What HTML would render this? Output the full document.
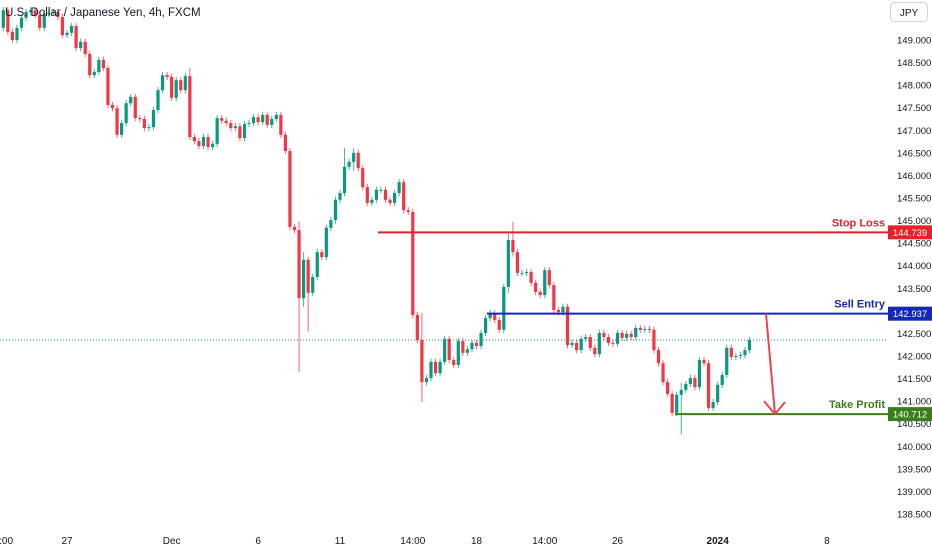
<!DOCTYPE html>
<html><head><meta charset="utf-8"><style>
html,body{margin:0;padding:0;background:#fff;}
body{width:932px;height:550px;overflow:hidden;font-family:"Liberation Sans",sans-serif;}
</style></head><body>
<svg id="chart" width="932" height="550" xmlns="http://www.w3.org/2000/svg" style="display:block">
<g id="candles"></g>
<g id="axis"></g>
<g id="timeaxis"></g>
<g id="levels"></g>
<text x="5" y="16" font-size="11.5" fill="#131722">U.S. Dollar / Japanese Yen, 4h, FXCM</text>
<g>
<rect x="890.5" y="2.5" width="37" height="19" rx="4" fill="#fff" stroke="#d1d4dc"/>
<text x="909" y="16" font-size="10" fill="#131722" text-anchor="middle">JPY</text>
</g>
</svg>
<script>
const firstOpen = 149.27;
const closes = [149.66,149.18,149.00,149.27,149.49,149.62,149.66,149.55,149.27,149.58,149.60,149.62,149.51,149.11,149.16,149.31,148.82,148.96,148.69,148.22,148.29,148.56,148.38,147.56,147.49,146.90,147.16,147.60,147.74,147.27,147.25,147.05,147.07,147.45,147.89,148.22,148.18,147.72,148.11,147.89,148.20,146.85,146.76,146.65,146.85,146.63,146.70,147.27,147.21,147.16,147.05,147.09,146.83,147.14,147.16,147.29,147.18,147.34,147.12,147.25,147.34,146.90,146.54,144.86,144.79,143.28,144.13,143.40,143.75,144.30,144.19,144.84,145.01,145.46,145.61,146.19,146.30,146.50,146.16,145.74,145.39,145.46,145.68,145.68,145.46,145.39,145.61,145.85,145.23,145.19,142.91,142.35,141.42,141.51,141.87,141.62,141.87,142.38,141.91,141.80,142.33,142.07,142.15,142.29,142.22,142.51,142.84,142.95,142.80,142.58,143.53,144.57,144.30,143.84,143.84,143.86,143.62,143.42,143.35,143.90,143.57,143.02,142.97,143.09,142.24,142.29,142.13,142.38,142.42,142.18,142.04,142.51,142.42,142.29,142.27,142.51,142.40,142.49,142.42,142.62,142.58,142.60,142.58,142.13,141.84,141.42,141.16,140.74,141.14,141.25,141.38,141.51,141.31,141.91,141.84,140.85,140.98,141.36,141.58,142.18,141.98,142.00,142.02,142.13,142.35];
const wickIdx = [41,65,66,67,75,77,92,111,112,149];
const wickHigh = [148.38,144.98,144.30,143.60,146.61,146.60,142.95,144.75,144.97,141.40];
const wickLow  = [146.80,141.64,143.09,142.54,146.10,146.10,140.98,143.40,144.20,140.26];
const priceTicks = ["149.000","148.500","148.000","147.500","147.000","146.500","146.000","145.500","145.000","144.500","144.000","143.500","143.000","142.500","142.000","141.500","141.000","140.500","140.000","139.500","139.000","138.500"];
const timeLabels = ["0:00","27","Dec","6","11","14:00","18","14:00","26","2024","8"];
const timeLabelIdx = [0,14,37,56,74,90,104,119,135,157,181];
const lastPrice = 142.35;
const stopLoss = 144.739, sellEntry = 142.937, takeProfit = 140.712;

const NS="http://www.w3.org/2000/svg";
function yS(p){return 40+(149-p)*45.14;}
function xS(i){return 3.3+i*4.55;}
function mk(tag,attrs,parent){const e=document.createElementNS(NS,tag);for(const k in attrs)e.setAttribute(k,attrs[k]);parent.appendChild(e);return e;}
const G="#089981",R="#f23645";
const cg=document.getElementById('candles');
// last price dotted line
const lp=mk('line',{x1:0,x2:888,y1:yS(lastPrice),y2:yS(lastPrice),stroke:"#089981","stroke-dasharray":"1,2","stroke-width":1},cg);


for(let i=0;i<closes.length;i++){
  const o=i===0?firstOpen:closes[i-1], c=closes[i];
  const k=wickIdx.indexOf(i);
  let hi=Math.max(o,c)+0.07, lo=Math.min(o,c)-0.07;
  if(k>=0){hi=Math.max(hi,wickHigh[k]);lo=Math.min(lo,wickLow[k]);}
  const col=c>=o?G:R, x=xS(i);
  const g=mk('g',{},cg);
  
  
  mk('line',{x1:x,x2:x,y1:yS(hi),y2:yS(lo),stroke:col,"stroke-width":1,opacity:0.75},g);
  const t=yS(Math.max(o,c)),b=yS(Math.min(o,c));
  mk('rect',{x:x-1.6,y:t,width:3.2,height:Math.max(1,b-t),fill:col},g);
}
const ax=document.getElementById('axis');
priceTicks.forEach(s=>{const t=mk('text',{x:897,y:yS(parseFloat(s))+3.5,"font-size":9.5,fill:"#131722"},ax);t.textContent=s;

});
const ta=document.getElementById('timeaxis');
timeLabels.forEach((s,j)=>{const t=mk('text',{x:xS(timeLabelIdx[j]),y:544,"font-size":10,fill:"#131722","text-anchor":"middle","font-weight":s==="2024"?"bold":"normal"},ta);t.textContent=s;

});
const lv=document.getElementById('levels');
function level(name,price,x1,col,label){
  const g=mk('g',{},lv);
  
  
  const y=yS(price);
  mk('line',{x1:x1,x2:888,y1:y,y2:y,stroke:col,"stroke-width":2},g);
  const t=mk('text',{x:885,y:y-6,"font-size":11,"font-weight":"bold",fill:col,"text-anchor":"end"},g);t.textContent=label;
  mk('rect',{x:888,y:y-7,width:44,height:14,fill:col},g);
  const p=mk('text',{x:910,y:y+3.5,"font-size":9.5,fill:"#fff","text-anchor":"middle"},g);p.textContent=price.toFixed(3);
}
level('stop-loss-level',stopLoss,378,"#e8202a","Stop Loss");
level('sell-entry-level',sellEntry,487,"#1428b8","Sell Entry");
level('take-profit-level',takeProfit,675,"#3b7d1a","Take Profit");
const ar=mk('g',{},lv);


const ya=yS(sellEntry),yb=yS(takeProfit);
mk('path',{d:`M766,${ya} L775,${yb} M764,${yb-13} L775,${yb} M785,${yb-12} L775,${yb}`,stroke:"#f0434e","stroke-width":2,fill:"none"},ar);
</script>
</body></html>
